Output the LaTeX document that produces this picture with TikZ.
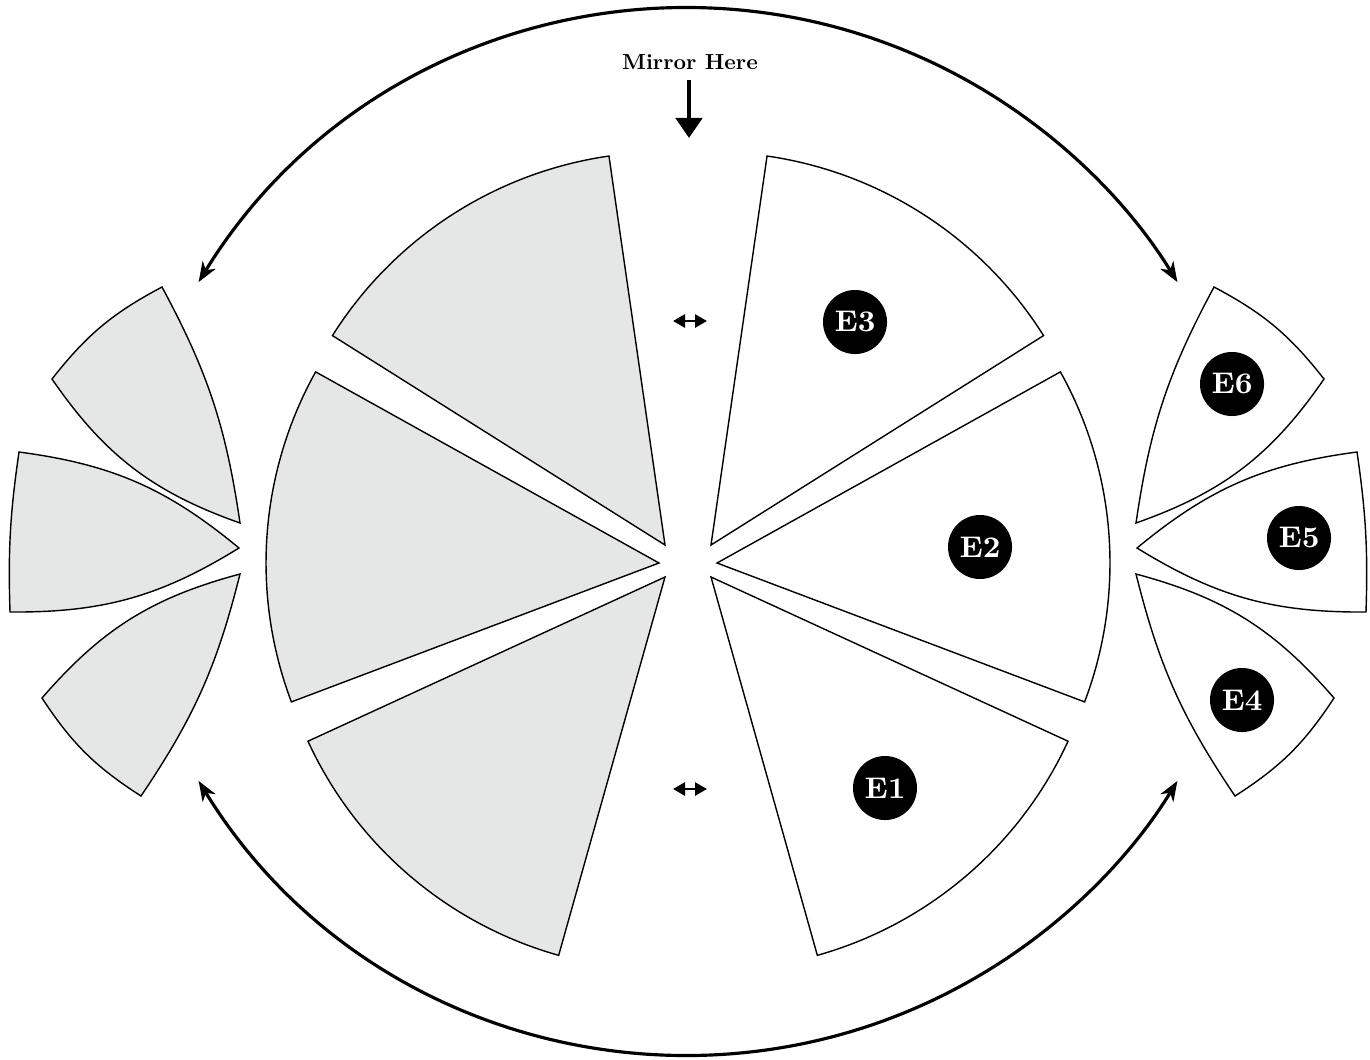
\documentclass[tikz,border=0pt]{standalone}
\usepackage{tikz}
\usetikzlibrary{arrows.meta}
\definecolor{shade}{RGB}{229,231,230}
\tikzset{
  piece/.style={draw=black, line width=0.4pt, fill=white},
  mirrored/.style={piece, fill=shade},
  badge/.style={circle, fill=black, text=white, minimum size=6.4mm, inner sep=0pt,
    font=\fontsize{8.5}{9}\selectfont\bfseries},
  swing/.style={line width=0.9pt,
    {Stealth[length=2mm,width=1.5mm,inset=0.6mm]}-{Stealth[length=2mm,width=1.5mm,inset=0.6mm]}},
  swap/.style={line width=0.8pt,
    {Triangle[length=1.2mm,width=1.3mm]}-{Triangle[length=1.2mm,width=1.3mm]}}
}

\begin{document}
\begin{tikzpicture}[x=0.01cm, y=0.01cm]
  \useasboundingbox (0,0) rectangle (1370,1059);

  %Right: big wedges
  \draw[piece] (711,514) -- ++(32.2:393) arc[start angle=32.2, end angle=81.8, radius=393] -- cycle;
  \draw[piece] (717,496) -- ++(-20.7:393) arc[start angle=-20.7, end angle=29.1, radius=393] -- cycle;
  \draw[piece] (711,482) -- ++(-74.3:393) arc[start angle=-74.3, end angle=-24.7, radius=393] -- cycle;

  %Right: small wedges
  \draw[piece] (1136,536) to[bend right=18] (1324,680) to[bend right=12] (1214,772)
    to[bend right=10] (1136,536) -- cycle;
  \draw[piece] (1137,511) to[bend right=16] (1366,447) to[bend right=5] (1357,607)
    to[bend right=16] (1137,511) -- cycle;
  \draw[piece] (1136,485) to[bend right=10] (1235,263) to[bend right=12] (1334,361)
    to[bend right=17] (1136,485) -- cycle;

  %Left: mirrored copies (x -> 1376-x)
  \draw[mirrored] (665,514) -- ++(147.8:393) arc[start angle=147.8, end angle=98.2, radius=393] -- cycle;
  \draw[mirrored] (659,496) -- ++(200.7:393) arc[start angle=200.7, end angle=150.9, radius=393] -- cycle;
  \draw[mirrored] (665,482) -- ++(254.3:393) arc[start angle=254.3, end angle=204.7, radius=393] -- cycle;

  \draw[mirrored] (240,536) to[bend left=18] (52,680) to[bend left=12] (162,772)
    to[bend left=10] (240,536) -- cycle;
  \draw[mirrored] (239,511) to[bend left=16] (10,447) to[bend left=5] (19,607)
    to[bend left=16] (239,511) -- cycle;
  \draw[mirrored] (240,485) to[bend left=10] (141,263) to[bend left=12] (42,361)
    to[bend left=17] (240,485) -- cycle;

  %labels
  \node[badge] (e3) at (855,737) {E3};
  \node[badge] (e2) at (980,512) {E2};
  \node[badge] (e1) at (885,271) {E1};
  \node[badge] (e6) at (1232,675) {E6};
  \node[badge] (e5) at (1299,521) {E5};
  \node[badge] (e4) at (1242,359) {E4};

  %mirror axis
  \node[font=\bfseries, scale=0.62, inner sep=1pt] (mirror) at (690,997) {Mirror Here};
  \coordinate (axis) at (689,921);
  \draw[line width=1.4pt, -{Triangle[length=2mm,width=2.6mm]}] (mirror.south) ++(-1,-8) -- (axis);

  %swap markers
  \coordinate (sl3) at (673,738);
  \coordinate (sr3) at (707,738);
  \draw[swap] (sl3) -- (sr3);
  \coordinate (sl1) at (673,270);
  \coordinate (sr1) at (707,270);
  \draw[swap] (sl1) -- (sr1);

  %outer arrows
  \coordinate (tl) at (198.6,776.9);
  \coordinate (bl) at (198.6,278.1);
  \draw[swing] (tl) arc[start angle=148.5, end angle=31.5, radius=574];
  \draw[swing] (bl) arc[start angle=211.5, end angle=328.5, radius=574];
\end{tikzpicture}
\end{document}
